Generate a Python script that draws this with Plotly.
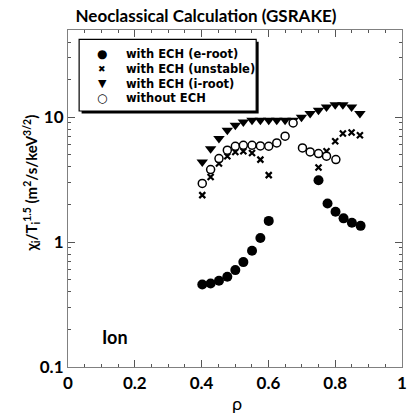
import plotly.graph_objects as go

# rho positions
rho = [0.402, 0.427, 0.452, 0.477, 0.501, 0.525, 0.551, 0.576, 0.601, 0.625,
       0.650, 0.674, 0.699, 0.725, 0.750, 0.774, 0.800, 0.823, 0.849, 0.874]

# with ECH (e-root)
eroot_rho = [0.402, 0.427, 0.452, 0.477, 0.501, 0.525, 0.551, 0.576, 0.601,
             0.750, 0.777, 0.801, 0.825, 0.850, 0.876]
eroot_val = [0.458, 0.467, 0.49, 0.528, 0.597, 0.692, 0.853, 1.08, 1.48,
             3.13, 2.04, 1.75, 1.55, 1.43, 1.35]

# with ECH (unstable)
unst_rho = [0.402, 0.427, 0.452, 0.477, 0.501, 0.525, 0.551, 0.576, 0.601,
            0.750, 0.774, 0.800, 0.823, 0.849, 0.874]
unst_val = [2.38, 3.33, 4.26, 4.88, 5.28, 5.35, 5.18, 4.58, 3.44,
            3.96, 5.35, 6.43, 7.41, 7.54, 7.18]

# with ECH (i-root)
iroot_rho = rho
iroot_val = [4.39, 5.6, 6.76, 7.87, 8.63, 9.17, 9.46, 9.46, 9.46, 9.46,
             9.46, 9.46, 10.0, 10.7, 11.4, 12.1, 12.6, 12.6, 12.1, 10.7]

# without ECH
noech_rho = [0.402, 0.427, 0.452, 0.477, 0.501, 0.525, 0.551, 0.576, 0.601,
             0.625, 0.650, 0.674, 0.702, 0.725, 0.750, 0.774, 0.802]
noech_val = [2.95, 3.81, 4.67, 5.45, 5.86, 5.97, 5.97, 5.89, 5.86,
             6.23, 7.05, 9.0, 5.68, 5.28, 5.12, 4.88, 4.58]

legend_labels = ["with ECH (e-root)", "with ECH (unstable)", "with ECH (i-root)", "without ECH"]
legend_glyphs = ["●", "✖", "▼", "○"]

FONT = "Lato"
LFONT = "DejaVu Sans"
W, H = 412, 417
ML, MR, MT, MB = 68, 5, 30, 50
PW, PH = W - ML - MR, H - MT - MB


def px(xp):
    return (xp - ML) / PW


def py(yp):
    return (H - MB - yp) / PH


fig = go.Figure()
fig.add_trace(go.Scatter(x=eroot_rho, y=eroot_val, mode="markers", name=legend_labels[0],
                         marker=dict(symbol="circle", size=10, color="black")))
fig.add_trace(go.Scatter(x=unst_rho, y=unst_val, mode="markers", name=legend_labels[1],
                         marker=dict(symbol="x-thin", size=6, color="black",
                                     line=dict(width=2.2, color="black"))))
fig.add_trace(go.Scatter(x=iroot_rho, y=iroot_val, mode="markers", name=legend_labels[2],
                         marker=dict(symbol="triangle-down", size=10, color="black")))
fig.add_trace(go.Scatter(x=noech_rho, y=noech_val, mode="markers", name=legend_labels[3],
                         marker=dict(symbol="circle", size=8, color="white",
                                     line=dict(width=1.5, color="black"))))

axis_common = dict(showgrid=False, zeroline=False, showline=True, linecolor="#808080",
                   linewidth=1.2, mirror="ticks", ticks="inside", tickcolor="#555",
                   tickwidth=1, ticklen=7,
                   tickfont=dict(family=FONT, size=17, color="black", weight="bold"))

fig.update_xaxes(range=[0, 1], dtick=0.2, tick0=0,
                 minor=dict(dtick=0.05, ticks="inside", ticklen=3, tickcolor="#555"),
                 **axis_common)
fig.update_yaxes(type="log", range=[-1, 1.699], dtick=1,
                 minor=dict(dtick="D1", ticks="inside", ticklen=3, tickcolor="#555"),
                 **axis_common)

fig.add_annotation(text="χ<sub>i</sub>/T<sub>i</sub><sup>1.5</sup> (m<sup>2</sup>/s/keV<sup>3/2</sup>)",
                   xref="paper", yref="paper", x=px(30), y=py(183),
                   textangle=-90, showarrow=False, xanchor="center", yanchor="middle",
                   font=dict(family=FONT, size=15, color="black", weight="bold"))
fig.add_annotation(text="ρ", xref="paper", yref="paper", x=px(240), y=py(403),
                   showarrow=False, xanchor="center", yanchor="middle",
                   font=dict(family=FONT, size=18, color="black"))
fig.add_annotation(text="Ion", xref="x", yref="y", x=0.096, y=-0.76, showarrow=False,
                   xanchor="left", yanchor="middle",
                   font=dict(family=FONT, size=18, color="black", weight="bold"))

# custom legend: shadow + box + labels
LX0, LY0, LX1, LY1 = 79.3, 39.3, 259, 111
fig.add_shape(type="rect", xref="paper", yref="paper",
              x0=px(LX0 + 2.5), x1=px(LX1 + 2.5), y0=py(LY1 + 2.5), y1=py(LY0 + 2.5),
              fillcolor="black", line=dict(width=0), layer="above")
fig.add_shape(type="rect", xref="paper", yref="paper",
              x0=px(LX0), x1=px(LX1), y0=py(LY1), y1=py(LY0),
              fillcolor="white", line=dict(width=1.2, color="black"), layer="above")
row_y = [54.3, 68.8, 83.5, 98.3]
glyph_sizes = [12, 9, 11, 12]
for lab, gl, gs, yy in zip(legend_labels, legend_glyphs, glyph_sizes, row_y):
    fig.add_annotation(text=lab, xref="paper", yref="paper", x=px(125), y=py(yy),
                       xanchor="left", yanchor="middle", showarrow=False,
                       font=dict(family=LFONT, size=11.5, color="black", weight="bold"))
    fig.add_annotation(text=gl, xref="paper", yref="paper", x=px(102.7), y=py(yy),
                       xanchor="center", yanchor="middle", showarrow=False,
                       font=dict(family=LFONT, size=gs, color="black", weight="bold"))

fig.update_layout(
    width=W, height=H,
    margin=dict(l=ML, r=MR, t=MT, b=MB),
    paper_bgcolor="white", plot_bgcolor="white",
    title=dict(text="Neoclassical Calculation (GSRAKE)", x=0.5, xanchor="center",
               y=1 - 15.8 / H, yanchor="middle",
               font=dict(family=FONT, size=17, color="black", weight="bold")),
    showlegend=False,
)

fig.write_html("out.html", config={"displayModeBar": False},
               post_script="document.body.style.margin='0';")
